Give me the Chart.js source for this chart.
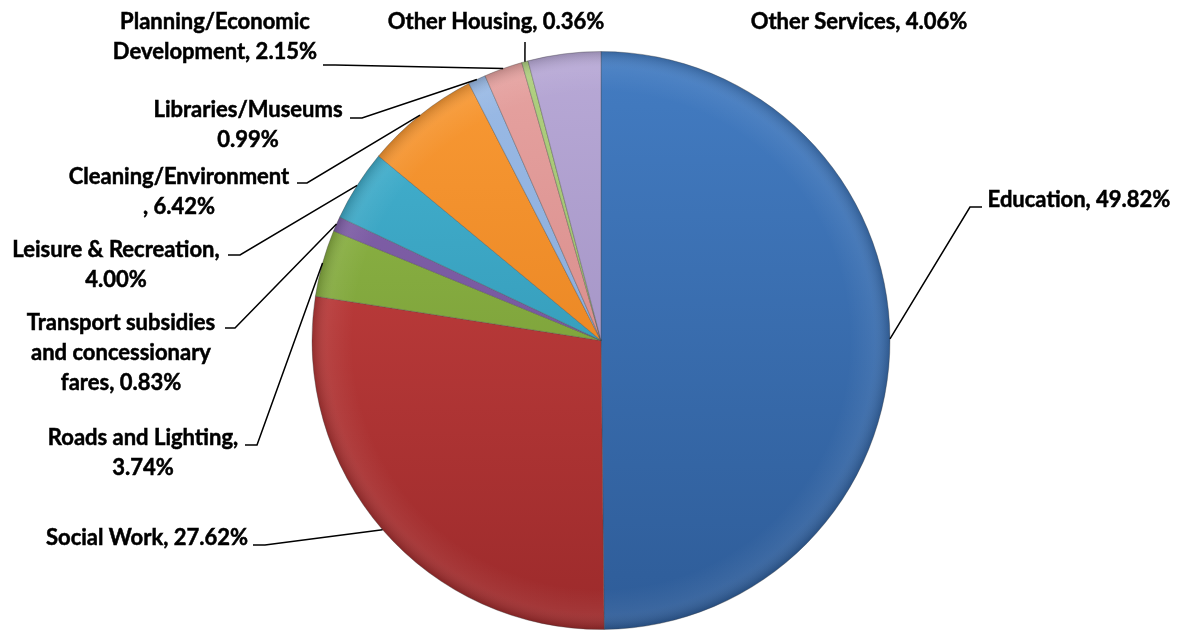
<!DOCTYPE html>
<html>
<head>
<meta charset="utf-8">
<script src="https://cdn.jsdelivr.net/npm/chart.js@4"></script>
<style>
  html, body { margin: 0; padding: 0; background: #fff; overflow: hidden; }
  #wrap { width: 1181px; height: 630px; }
</style>
</head>
<body>
<div id="wrap"><canvas id="pie"></canvas></div>
<script>
// data
const categories = [
  'Education', 'Social Work', 'Roads and Lighting',
  'Transport subsidies and concessionary fares', 'Leisure & Recreation',
  'Cleaning/Environment', 'Libraries/Museums', 'Planning/Economic Development',
  'Other Housing', 'Other Services'
]
const shares = [49.82, 27.62, 3.74, 0.83, 4.00, 6.42, 0.99, 2.15, 0.36, 4.06]

// how each label is broken into lines (as in the original)
const labelLines = [
  ['Education, 49.82%'],
  ['Social Work, 27.62%'],
  ['Roads and Lighting,', '3.74%'],
  ['Transport subsidies', 'and concessionary', 'fares, 0.83%'],
  ['Leisure & Recreation,', '4.00%'],
  ['Cleaning/Environment', ', 6.42%'],
  ['Libraries/Museums', '0.99%'],
  ['Planning/Economic', 'Development, 2.15%'],
  ['Other Housing, 0.36%'],
  ['Other Services, 4.06%'],
]

// colours: light (top) / dark (bottom) per slice
const lightColors = ['#437cc2', '#cb4442', '#93bb48', '#8565ad', '#45b4d2', '#f99a35', '#9bbbe6', '#e6a3a1', '#b0d080', '#b8a9d6']
const darkColors  = ['#2e5c98', '#9c2a2b', '#6d9031', '#6a4b92', '#2a8aa8', '#df7817', '#7d9fd0', '#cf7c7a', '#8fb15a', '#9585ba']

// label layout: [centre x, first line y], and where the leader line leaves the text
const labelPos = [
  [1079, 200], [147, 538], [143, 438], [121, 323], [116, 250],
  [179, 177], [248, 110], [215, 22], [496, 22], [859, 22]
]
const leaderFrom = [
  [[982, 207], [970, 207]],
  [[253, 545], [265, 545]],
  [[245, 445], [257, 445]],
  [[225, 328], [235, 328]],
  [[228, 255], [240, 255]],
  [[297, 183], [307, 183]],
  [[350, 118], [362, 118]],
  [[323, 65], [335, 65]],
  [[525, 42]],
  null
]

const labelFont = 'bold 22px Lato, "Open Sans", sans-serif'
const lineHeight = 30

const sliceFill = (ctx, i) => {
  const chart = ctx.chart
  const area = chart.chartArea
  if (!area) return lightColors[i]
  const g = chart.ctx.createLinearGradient(0, area.top, 0, area.bottom)
  g.addColorStop(0, lightColors[i])
  g.addColorStop(1, darkColors[i])
  return g
}

// rim shading + labels with leader lines
const labelsPlugin = {
  id: 'labels',
  afterDatasetsDraw(chart) {
    const ctx = chart.ctx
    const arcs = chart.getDatasetMeta(0).data
    const a0 = arcs[0]
    const cx = a0.x, cy = a0.y, r = a0.outerRadius

    ctx.save()
    ctx.beginPath()
    ctx.arc(cx, cy, r, 0, Math.PI * 2)
    ctx.clip()
    const rim = ctx.createRadialGradient(cx, cy, r * 0.86, cx, cy, r)
    rim.addColorStop(0, 'rgba(255,255,255,0)')
    rim.addColorStop(0.6, 'rgba(255,255,255,0.06)')
    rim.addColorStop(1, 'rgba(0,0,0,0.18)')
    ctx.fillStyle = rim
    ctx.fillRect(cx - r, cy - r, r * 2, r * 2)
    ctx.restore()

    ctx.save()
    ctx.strokeStyle = '#000'
    ctx.lineWidth = 1.5
    arcs.forEach((arc, i) => {
      const from = leaderFrom[i]
      if (!from) return
      const mid = (arc.startAngle + arc.endAngle) / 2
      const ex = arc.x + Math.cos(mid) * arc.outerRadius
      const ey = arc.y + Math.sin(mid) * arc.outerRadius
      ctx.beginPath()
      ctx.moveTo(from[0][0], from[0][1])
      from.slice(1).forEach(p => ctx.lineTo(p[0], p[1]))
      ctx.lineTo(ex, ey)
      ctx.stroke()
    })

    // a thin outline makes the bold text about as heavy as the original
    ctx.fillStyle = '#000'
    ctx.lineWidth = 0.5
    ctx.font = labelFont
    ctx.textAlign = 'center'
    ctx.textBaseline = 'middle'
    labelLines.forEach((lines, i) => {
      const [x, y] = labelPos[i]
      lines.forEach((t, k) => {
        ctx.fillText(t, x, y + k * lineHeight)
        ctx.strokeText(t, x, y + k * lineHeight)
      })
    })
    ctx.restore()
  }
}

new Chart(document.getElementById('pie'), {
  type: 'pie',
  data: {
    labels: categories,
    datasets: [{
      data: shares,
      backgroundColor: ctx => sliceFill(ctx, ctx.dataIndex),
      borderColor: 'rgba(70,70,70,0.35)',
      borderWidth: 1,
    }]
  },
  options: {
    responsive: true,
    maintainAspectRatio: false,
    animation: false,
    layout: { padding: { top: 51, bottom: 0, left: 21, right: 0 } },
    plugins: {
      legend: { display: false },
      tooltip: { enabled: false },
    }
  },
  plugins: [labelsPlugin]
})
</script>
</body>
</html>
